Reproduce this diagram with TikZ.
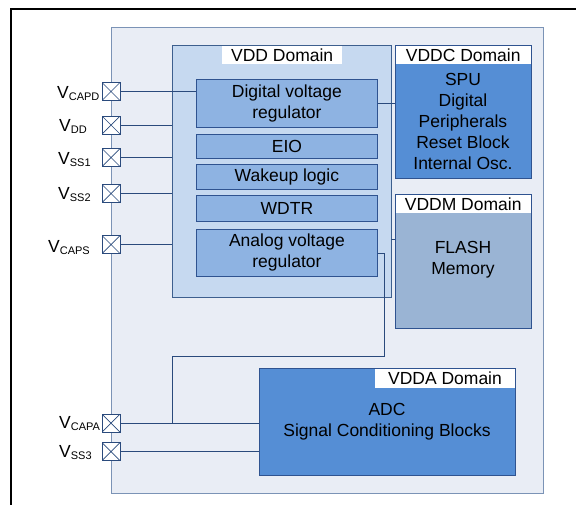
\documentclass[tikz,border=0pt]{standalone}
\usepackage{fontspec}
\setmainfont{Liberation Sans}

\definecolor{chipfill}{HTML}{E9EDF5}
\definecolor{chipline}{HTML}{7B93B6}
\definecolor{vddfill}{HTML}{C6D9F0}
\definecolor{vddline}{HTML}{3D5F8E}
\definecolor{blockfill}{HTML}{8EB3E2}
\definecolor{blockline}{HTML}{2F5390}
\definecolor{domfill}{HTML}{558ED5}
\definecolor{flashfill}{HTML}{9AB4D4}
\definecolor{wireblue}{HTML}{2A4A7C}

% pin name: V with a lowered small index
\newcommand{\vpin}[1]{V\raisebox{-2pt}{\fontsize{11}{11}\selectfont #1}}

\begin{document}
\begin{tikzpicture}[x=1pt, y=-1pt, font=\fontsize{17.5}{21}\selectfont,
    box/.style={draw, rectangle, inner sep=0pt, anchor=north west, align=center},
    chipbox/.style={fill=chipfill, draw=chipline, line width=1pt},
    vddbox/.style={fill=vddfill, draw=vddline, line width=0.8pt},
    blockbox/.style={fill=blockfill, draw=blockline, line width=0.8pt},
    dombox/.style={fill=domfill, draw=blockline, line width=0.8pt},
    flashbox/.style={fill=flashfill, draw=blockline, line width=0.8pt},
    tagbox/.style={fill=white, inner sep=0pt, minimum height=18.5pt},
    bodytext/.style={align=center, inner sep=0pt},
    pad/.style={draw=wireblue, fill=white, line width=0.8pt, minimum size=18pt, inner sep=0pt,
        path picture={\draw[wireblue, line width=0.7pt]
            (path picture bounding box.north west) -- (path picture bounding box.south east)
            (path picture bounding box.south west) -- (path picture bounding box.north east);}},
    wire/.style={draw=wireblue, line width=0.8pt},
    pinlabel/.style={anchor=base west, inner sep=0pt}]
    \useasboundingbox (0,0) rectangle (576,504);

    % Define the frame and the chip
    \draw[line width=2pt] (11,520) -- (11,9) -- (590,9);
    \node[box, chipbox, minimum width=432, minimum height=466] (chip) at (111,27) {};

    % VDD domain and its blocks
    \node[box, vddbox, minimum width=219, minimum height=252] (vdd) at (172,45) {};
    \node[tagbox, minimum width=120, anchor=north west] (vddtag) at (222,45.6) {VDD Domain};
    \node[box, blockbox, minimum width=181, minimum height=48] (digreg) at (196,79) {Digital voltage\\regulator};
    \node[box, blockbox, minimum width=181, minimum height=24] (eio) at (196,134) {EIO};
    \node[box, blockbox, minimum width=181, minimum height=25] (wakeup) at (196,164) {Wakeup logic};
    \node[box, blockbox, minimum width=181, minimum height=26] (wdtr) at (196,195) {WDTR};
    \node[box, blockbox, minimum width=181, minimum height=47] (anareg) at (196,229) {Analog voltage\\regulator};

    % VDDC domain
    \node[box, dombox, minimum width=136, minimum height=133] (vddc) at (395,45) {};
    \node[tagbox, minimum width=134.8, anchor=north west] (vddctag) at ([shift={(0.6,0.6)}]vddc.north west) {VDDC Domain};
    \node[bodytext] (spu) at (463,121) {SPU\\Digital\\Peripherals\\Reset Block\\Internal Osc.};

    % VDDM domain
    \node[box, flashbox, minimum width=136, minimum height=134] (vddm) at (395,194) {};
    \node[tagbox, minimum width=134.8, anchor=north west] (vddmtag) at ([shift={(0.6,0.6)}]vddm.north west) {VDDM Domain};
    \node[bodytext] (flashmem) at (463,260) {FLASH\\Memory};

    % VDDA domain
    \node[box, dombox, minimum width=256.5, minimum height=107] (vdda) at (258.5,368) {};
    \node[tagbox, minimum width=140, minimum height=19.5, anchor=north east] (vddatag) at ([shift={(-0.6,0.6)}]vdda.north east) {VDDA Domain};
    \node[bodytext] (adc) at (387,422) {ADC\\Signal Conditioning Blocks};

    % Pads on the chip edge
    \node[pad] (pcapd) at (111,91.5) {};
    \node[pad] (pvdd) at (111,125) {};
    \node[pad] (pss1) at (111,157.5) {};
    \node[pad] (pss2) at (111,193.5) {};
    \node[pad] (pcaps) at (111,244.5) {};
    \node[pad] (pcapa) at (111,423) {};
    \node[pad] (pss3) at (111,451.5) {};

    \node[pinlabel] (lcapd) at (57,98) {\vpin{CAPD}};
    \node[pinlabel] (lvdd) at (59,131) {\vpin{DD}};
    \node[pinlabel] (lss1) at (58,164) {\vpin{SS1}};
    \node[pinlabel] (lss2) at (58,199.5) {\vpin{SS2}};
    \node[pinlabel] (lcaps) at (48,252.5) {\vpin{CAPS}};
    \node[pinlabel] (lcapa) at (59,428) {\vpin{CAPA}};
    \node[pinlabel] (lss3) at (59,457) {\vpin{SS3}};

    % Wires
    \coordinate (mlink) at (391,239);
    \coordinate (abend) at (384,356);
    \draw[wire] (pcapd.east) -- (pcapd.east -| digreg.west);
    \draw[wire] (pvdd.east) -- (pvdd.east -| vdd.west);
    \draw[wire] (pss1.east) -- (pss1.east -| vdd.west);
    \draw[wire] (pss2.east) -- (pss2.east -| vdd.west);
    \draw[wire] (pcaps.east) -- (pcaps.east -| vdd.west);
    \draw[wire] (digreg.east) -- (digreg.east -| vddc.west);
    \draw[wire] (mlink) -- (mlink -| vddm.west);
    \draw[wire] (anareg.east) -| (abend) -| (vdd.west |- pcapa);
    \draw[wire] (pcapa.east) -- (pcapa.east -| vdda.west);
    \draw[wire] (pss3.east) -- (pss3.east -| vdda.west);
\end{tikzpicture}
\end{document}
